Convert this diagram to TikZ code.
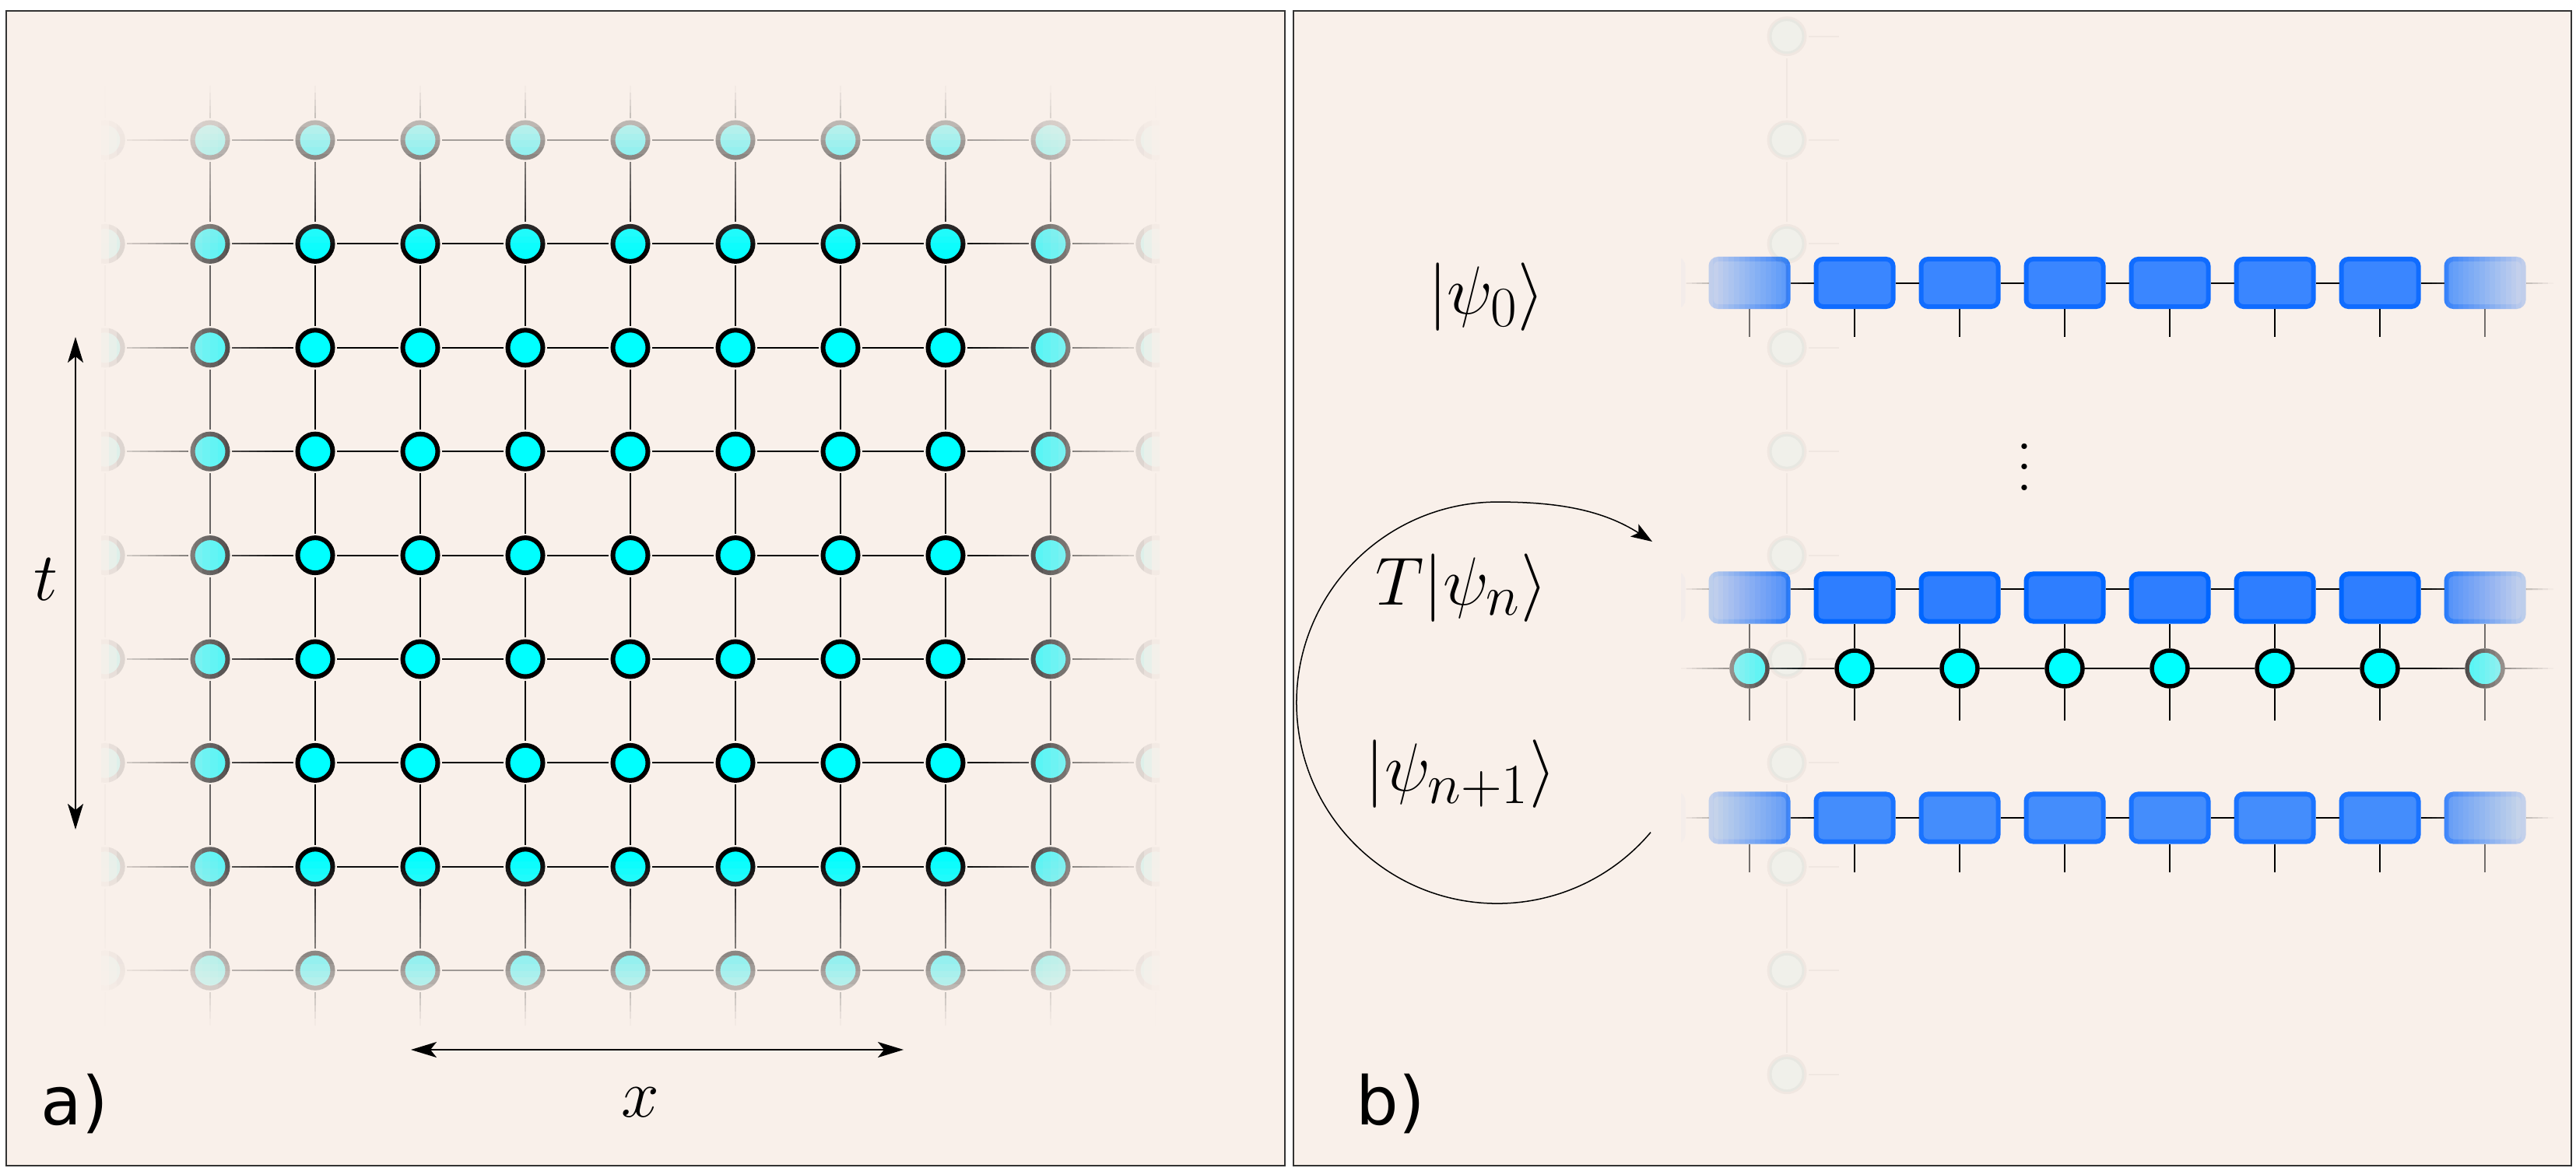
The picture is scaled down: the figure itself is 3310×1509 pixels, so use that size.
\documentclass[tikz,border=0pt]{standalone}
\usepackage{fontspec}
\newfontfamily\dejavu{DejaVu Sans}
\usetikzlibrary{arrows.meta}
\definecolor{bgpeach}{RGB}{249,240,234}
\definecolor{cyanc}{RGB}{0,255,255}
\definecolor{fillA}{RGB}{58,134,255}
\definecolor{drawA}{RGB}{16,108,255}
\definecolor{fillB}{RGB}{46,126,255}
\definecolor{drawB}{RGB}{0,102,255}
\definecolor{fillC}{RGB}{68,141,252}
\definecolor{drawC}{RGB}{26,115,255}
\newcommand\myvdots{\vbox{\baselineskip=7.54pt\lineskiplimit=0pt\hbox{.}\hbox{.}\hbox{.}}}

\begin{document}
\begin{tikzpicture}[x=0.01cm,y=-0.01cm,
  panel/.style={fill=bgpeach,draw=black!80,line width=0.022cm},
  panelline/.style={draw=black!80,line width=0.022cm},
  fog/.style={fill=bgpeach,draw=none},
  latnode/.style={circle,draw=black,fill=cyanc,line width=0.06cm,minimum size=0.45cm,inner sep=0pt,outer sep=0.055cm},
  latline/.style={line width=0.02cm,draw=black},
  bcirc/.style={circle,draw=black,fill=cyanc,line width=0.055cm,minimum size=0.46cm,inner sep=0pt,outer sep=0.0275cm},
  mpsbox/.style={rectangle,rounded corners=0.09cm,line width=0.06cm,minimum width=0.99cm,minimum height=0.61cm,inner sep=0pt},
  boxA/.style={mpsbox,draw=drawA,fill=fillA},
  boxB/.style={mpsbox,draw=drawB,fill=fillB},
  boxC/.style={mpsbox,draw=drawC,fill=fillC},
  bond/.style={line width=0.02cm,draw=black},
  ghost/.style={latnode},
  lab/.style={font=\fontsize{24.88}{30}\selectfont,inner sep=0pt,anchor=base},
  plab/.style={font=\dejavu\fontsize{24.5}{30}\selectfont,inner sep=0pt,anchor=base west},
  dblarrow/.style={line width=0.02cm,{Stealth[length=0.33cm,width=0.2cm,inset=0.08cm]}-{Stealth[length=0.33cm,width=0.2cm,inset=0.08cm]}},
  looparrow/.style={line width=0.015cm,-{Stealth[length=0.27cm,width=0.19cm,inset=0.06cm]}}
]
\useasboundingbox (0,0) rectangle (3310,1509);
\fill[white] (0,0) rectangle (3310,1509);
\draw[panel] (8,14) rectangle (1651,1498);
\draw[panel] (1662,14) rectangle (3304,1498);

% ---------------- panel a: lattice
\foreach \c in {0,...,10}{
  \foreach \r in {0,...,10}{
    \node[latnode] (L\c-\r) at ({135+135*\c},{46.6+133.4*\r}) {};
  }}
\foreach \c in {0,...,10}{
  \foreach \r in {0,...,9}{
    \pgfmathtruncatemacro\rn{\r+1}
    \draw[latline] (L\c-\r) -- (L\c-\rn);
    \draw[latline] (L\r-\c) -- (L\rn-\c);
  }}

% ---------------- panel b: MPS chains
\foreach \k in {0,...,8}{
  \node[boxA] (P\k) at ({2113+135*\k},363.5) {};
  \node[boxB] (Q\k) at ({2113+135*\k},768) {};
  \node[bcirc] (C\k) at ({2113+135*\k},859) {};
  \node[boxC] (R\k) at ({2113+135*\k},1051) {};
}
\foreach \k in {0,...,7}{
  \pgfmathtruncatemacro\kn{\k+1}
  \draw[bond] (P\k) -- (P\kn);
  \draw[bond] ([yshift=0.11cm]Q\k.east) -- ([yshift=0.11cm]Q\kn.west);
  \draw[bond] (C\k) -- (C\kn);
  \draw[bond] (R\k) -- (R\kn);
}
\coordinate (Pend) at (3300,363.5);
\coordinate (Qend) at (3300,757);
\coordinate (Cend) at (3300,859);
\coordinate (Rend) at (3300,1051);
\draw[bond] (P8) -- (Pend);
\draw[bond] ([yshift=0.11cm]Q8.east) -- (Qend);
\draw[bond] (C8) -- (Cend);
\draw[bond] (R8) -- (Rend);
\foreach \k in {0,...,8}{
  \draw[bond] (P\k.south) -- ++(0,36);
  \draw[bond] (Q\k.south) -- (C\k.north);
  \draw[bond] (C\k.south) -- ++(0,41);
  \draw[bond] (R\k.south) -- ++(0,36);
}

% ---------------- fog (fades towards the edges)
\foreach \j in {1,...,25}{
  \pgfmathsetmacro\fa{(\j==1) ? 1 : 1-(\j-1.5)/25}
  \pgfmathsetmacro\fb{1-(\j-0.5)/25}
  \pgfmathsetmacro\bet{1-\fb/\fa}
  % panel a, left / right
  \fill[fog,opacity=\bet] (8,14) rectangle ({380-(\j-1)*10},1498);
  \fill[fog,opacity=\bet] ({1240+(\j-1)*10},14) rectangle (1651,1498);
  % panel a, top / bottom
  \fill[fog,opacity=\bet] (8,14) rectangle (1651,{330-(\j-1)*8.8});
  \fill[fog,opacity=\bet] (8,{1098+(\j-1)*8.8}) rectangle (1651,1498);
  % panel b, chains left / right
  \fill[fog,opacity=\bet] (2040,300) rectangle ({2330-(\j-1)*6.8},1140);
  \fill[fog,opacity=\bet] ({3111+(\j-1)*6.8},300) rectangle (3303,1140);
}
\fill[fog] (8,14) rectangle (130,1498);
\fill[fog] (1490,14) rectangle (1651,1498);
\fill[fog] (8,14) rectangle (1651,110);
\fill[fog] (8,1318) rectangle (1651,1498);
\fill[fog] (2040,300) rectangle (2160,1140);
\fill[fog] (3281,300) rectangle (3303,1140);
\draw[panelline] (8,14) rectangle (1651,1498);
\draw[panelline] (1662,14) rectangle (3304,1498);

% ---------------- ghost column in panel b
\begin{scope}[opacity=0.035]
  \foreach \r in {0,...,10}{
    \node[ghost] (G\r) at (2296,{46.6+133.4*\r}) {};
    \draw[latline] (G\r.east) -- ++(39,0);
  }
  \foreach \r in {0,...,9}{
    \pgfmathtruncatemacro\rn{\r+1}
    \draw[latline] (G\r) -- (G\rn);
  }
\end{scope}

% ---------------- labels
\node[lab] (psi0) at (1910,403) {$|\psi_0\rangle$};
\node[lab] (Tpsi) at (1878,777) {$T|\psi_n\rangle$};
\node[lab] (psin1) at (1877,1016) {$|\psi_{n+1}\rangle$};
\node[lab,anchor=center] (vd) at (2601,600) {\myvdots};
\node[lab] (tlab) at (59,771) {$t$};
\node[lab] (xlab) at (823,1435) {$x$};
\node[plab] (la) at (52,1445) {a)};
\node[plab] (lb) at (1742,1445) {b)};

% ---------------- arrows
\coordinate (ta) at (97,433);
\coordinate (tb) at (97,1066);
\draw[dblarrow] (ta) -- (tb);
\coordinate (xa) at (528,1349);
\coordinate (xb) at (1161,1349);
\draw[dblarrow] (xa) -- (xb);

\coordinate (cs) at (2121,1069.6);
\coordinate (ce) at (2123,696);
\draw[looparrow] (cs) arc[start angle=40.2, end angle=270, radius=258]
  .. controls (2004,645) and (2060,656) .. (ce);
\end{tikzpicture}
\end{document}
